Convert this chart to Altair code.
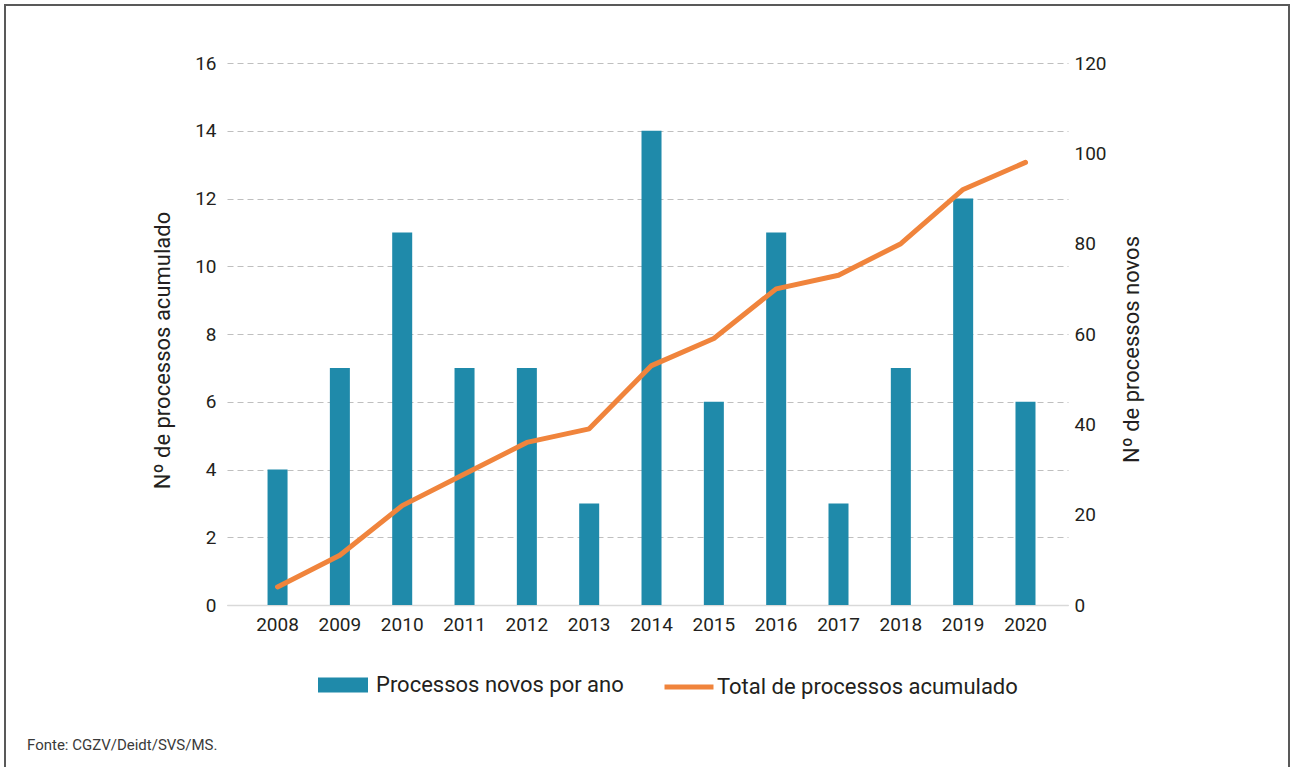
import altair as alt
import pandas as pd

anos = ["2008", "2009", "2010", "2011", "2012", "2013", "2014",
        "2015", "2016", "2017", "2018", "2019", "2020"]
novos = [4, 7, 11, 7, 7, 3, 14, 6, 11, 3, 7, 12, 6]
acumulado = [4, 11, 22, 29, 36, 39, 53, 59, 70, 73, 80, 92, 98]

SERIE_BAR = "Processos novos por ano"
SERIE_LINE = "Total de processos acumulado"
BAR_COLOR = "#1F8AAA"
LINE_COLOR = "#F0843C"
TEXT_COLOR = "#231F20"
FONT = "Roboto, 'Noto Sans', sans-serif"

df = pd.DataFrame({
    "ano": anos,
    "novos": novos,
    "acumulado": acumulado,
    "sb": [SERIE_BAR] * len(anos),
    "sl": [SERIE_LINE] * len(anos),
})

W, H = 841, 542

x_enc = alt.X(
    "ano:O",
    sort=anos,
    scale=alt.Scale(paddingInner=0.679, paddingOuter=0.586, align=0.555),
    axis=alt.Axis(title=None, labelAngle=0, ticks=False, domainColor="#D9D9D9",
                  domainWidth=1.5, labelPadding=10, labelFontSize=19),
)

bars = alt.Chart(df).mark_bar(color=BAR_COLOR).encode(
    x=x_enc,
    y=alt.Y(
        "novos:Q",
        scale=alt.Scale(domain=[0, 16], nice=False),
        axis=alt.Axis(
            title="Nº de processos acumulado",
            values=[0, 2, 4, 6, 8, 10, 12, 14, 16],
            grid=True, gridDash=[6, 4], gridColor="#BFBFBF", gridWidth=1,
            domain=False, ticks=False, labelPadding=11, labelFontSize=19,
            titleX=-53, titleY=287, titleAngle=270, titleBaseline="bottom",
            titleAlign="center",
        ),
    ),
    color=alt.Color(
        "sb:N",
        scale=alt.Scale(range=[BAR_COLOR]),
        legend=alt.Legend(
            title=None, orient="none", legendX=91, legendY=597, padding=0,
            symbolType="M-1,-0.3H1V0.3H-1Z", symbolSize=2500, symbolStrokeWidth=0,
            symbolOpacity=1, labelFontSize=22, labelOffset=8, labelLimit=400,
        ),
    ),
)

line = alt.Chart(df).mark_line(strokeWidth=5, strokeCap="round", strokeJoin="round").encode(
    x=alt.X("ano:O", sort=anos),
    y=alt.Y(
        "acumulado:Q",
        scale=alt.Scale(domain=[0, 120], nice=False),
        axis=alt.Axis(
            orient="right",
            title="Nº de processos novos",
            values=[0, 20, 40, 60, 80, 100, 120],
            grid=False, domain=False, ticks=False, labelPadding=6, labelFontSize=19,
            titleX=75, titleY=286, titleAngle=270, titleBaseline="bottom",
            titleAlign="center",
        ),
    ),
    stroke=alt.Stroke(
        "sl:N",
        scale=alt.Scale(range=[LINE_COLOR]),
        legend=alt.Legend(
            title=None, orient="none", legendX=435, legendY=597, padding=0,
            symbolType="stroke", symbolSize=2400, symbolStrokeWidth=5,
            labelFontSize=22, labelOffset=1, labelLimit=400,
        ),
    ),
)

frame_df = pd.DataFrame({"k": [0]})
frame = alt.Chart(frame_df).mark_rect(filled=False, stroke="#595959", strokeWidth=2).encode(
    x=alt.value(-222), x2=alt.value(1062), y=alt.value(-58), y2=alt.value(740),
)

fonte = alt.Chart(frame_df).mark_text(
    text="Fonte: CGZV/Deidt/SVS/MS.", align="left", baseline="middle",
    fontSize=15, color="#3A3A3A", font=FONT,
).encode(x=alt.value(-200), y=alt.value(682))

chart = alt.layer(bars, line, frame, fonte).resolve_scale(
    y="independent", color="independent", stroke="independent"
).properties(
    width=W, height=H,
    autosize=alt.AutoSizeParams(type="none"),
    padding={"left": 227, "top": 63, "right": 223, "bottom": 162},
    background="white",
).configure_view(stroke=None).configure_axis(
    labelFont=FONT, titleFont=FONT, labelColor=TEXT_COLOR, titleColor=TEXT_COLOR,
    titleFontSize=22, titleFontWeight="normal",
).configure_legend(
    labelFont=FONT, labelColor=TEXT_COLOR,
)

chart.save("out.html", embed_options={"renderer": "svg", "actions": False})
